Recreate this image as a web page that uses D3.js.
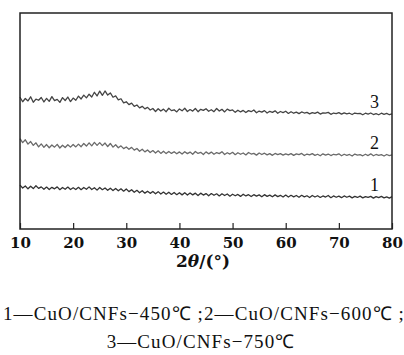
<!DOCTYPE html>
<html>
<head>
<meta charset="utf-8">
<script src="https://cdn.jsdelivr.net/npm/d3@7"></script>
<style>
  html, body { margin: 0; padding: 0; background: #fff; }
  svg { display: block; }
</style>
</head>
<body>
<div id="chart"></div>
<script>
// 2θ sampled every 0.5° from 10 to 80
const thetaStart = 10;
const thetaStep = 0.5;
const xTicks = [10, 20, 30, 40, 50, 60, 70, 80];

// intensity (a.u., stacked offsets)
const series3 = [
  61.0, 58.9, 60.4, 59.3, 61.2, 58.7, 60.1, 59.6, 60.9, 58.8, 60.5, 59.1, 61.3, 59.4, 60.0, 58.6, 60.8, 59.5, 61.1, 59.0, 60.6,
  59.6, 61.5, 60.2, 62.0, 60.7, 62.4, 61.1, 63.3, 61.6, 63.8,
  61.9, 63.9, 62.0, 63.0, 61.0, 61.6, 59.8, 60.3, 58.4, 58.9,
  57.6, 58.3, 56.8, 57.4, 56.1, 56.8, 55.6, 56.3, 55.1, 55.8,
  54.4, 55.7, 54.6, 55.5, 54.3, 55.9, 54.8, 55.2, 54.2, 55.6,
  54.7, 55.9, 54.4, 55.3, 54.6, 55.8, 54.3, 55.4, 54.9, 55.7,
  54.5, 55.2, 54.3, 55.8, 54.6, 55.4, 54.2, 55.5, 54.8, 55.1,
  54.0, 55.0, 54.2, 54.9, 53.9, 54.8, 54.3, 55.1, 53.8, 54.6,
  54.1, 54.8, 53.7, 54.5, 54.0, 54.7, 53.6, 54.4, 53.9, 54.5,
  53.5, 54.3, 53.6, 54.1, 53.4, 54.2, 53.7, 54.0, 53.3, 53.9,
  53.5, 54.1, 53.2, 53.8, 53.6, 54.0, 53.1, 53.7, 53.4, 53.9,
  53.2, 53.8, 53.3, 53.6, 53.0, 53.7, 53.4, 53.5, 52.9, 53.6,
  53.2, 53.7, 53.0, 53.4, 52.9, 53.6, 53.1, 53.5, 52.9, 53.3
];
const series2 = [
  41.8, 40.0, 41.3, 39.3, 40.5, 38.7, 39.9, 38.0, 39.4, 37.8, 39.1, 37.6, 38.9, 37.9, 39.2, 37.5, 38.8, 37.7, 39.0, 37.9, 39.1,
  38.0, 39.3, 38.1, 39.6, 38.4, 39.9, 38.5, 40.1, 38.7, 40.0,
  38.6, 39.8, 38.2, 39.6, 37.9, 39.0, 37.6, 38.5, 37.2, 38.0,
  36.9, 37.8, 36.5, 37.3, 36.0, 36.9, 35.7, 36.6, 35.4, 36.3,
  35.2, 36.2, 35.0, 36.0, 34.9, 35.9, 35.0, 35.8, 34.8, 35.7,
  34.7, 35.8, 34.9, 35.6, 34.6, 35.9, 35.0, 35.5, 34.5, 35.7,
  34.8, 35.6, 34.6, 35.4, 34.9, 35.8, 34.5, 35.3, 34.7, 35.5,
  34.4, 35.3, 34.6, 35.2, 34.3, 35.4, 34.7, 35.0, 34.2, 35.2,
  34.5, 35.1, 34.3, 34.9, 34.1, 35.0, 34.4, 34.9, 34.2, 34.8,
  34.3, 34.9, 34.1, 34.8, 34.4, 35.0, 34.0, 34.7, 34.3, 34.9,
  34.1, 34.6, 33.9, 34.8, 34.2, 34.7, 34.0, 34.6, 34.3, 34.8,
  33.9, 34.6, 34.1, 34.5, 33.8, 34.7, 34.2, 34.4, 33.9, 34.6,
  34.0, 34.8, 33.9, 34.5, 34.1, 34.4, 33.8, 34.5, 34.0, 34.3
];
const series1 = [
  20.3, 19.0, 19.9, 18.6, 19.8, 18.7, 20.0, 18.8, 19.5, 18.4, 19.4, 18.3, 19.3, 18.6, 19.5, 18.2, 19.2, 18.4, 19.4, 18.3, 19.1,
  18.3, 19.3, 18.2, 19.2, 18.4, 19.5, 18.3, 19.1, 18.0, 19.2,
  18.2, 19.0, 17.9, 18.9, 17.8, 18.8, 17.7, 18.6, 17.5, 18.5,
  17.3, 18.2, 17.0, 17.9, 16.8, 17.7, 16.6, 17.5, 16.5, 17.4,
  16.3, 17.3, 16.2, 17.1, 16.1, 17.0, 16.0, 16.9, 15.9, 16.8,
  15.8, 16.8, 15.7, 16.7, 15.8, 16.6, 15.5, 16.6, 15.7, 16.4,
  15.4, 16.4, 15.6, 16.3, 15.3, 16.3, 15.5, 16.2, 15.2, 16.1,
  15.4, 16.0, 15.1, 16.1, 15.3, 15.9, 15.0, 15.9, 15.2, 15.8,
  14.9, 15.9, 15.1, 15.7, 14.9, 15.8, 15.0, 15.6, 14.8, 15.7,
  14.8, 15.6, 14.9, 15.5, 14.7, 15.6, 14.9, 15.4, 14.6, 15.5,
  14.8, 15.4, 14.6, 15.3, 14.8, 15.5, 14.5, 15.3, 14.7, 15.2,
  14.5, 15.3, 14.7, 15.2, 14.4, 15.1, 14.6, 15.2, 14.4, 15.0,
  14.6, 15.1, 14.3, 15.0, 14.5, 15.1, 14.4, 14.9, 14.3, 15.0
];
const curveNames = ['1', '2', '3'];
const legendLines = [
  '1\u2014CuO/CNFs\u2212450\u2103 ;2\u2014CuO/CNFs\u2212600\u2103 ;',
  '3\u2014CuO/CNFs\u2212750\u2103'
];

const W = 404, H = 355;
const margin = { top: 13, right: 12, bottom: 126, left: 20 };
const width = W - margin.left - margin.right;
const height = H - margin.top - margin.bottom;

const serif = '"Liberation Serif", "Times New Roman", serif';
const boldSerif = '"DejaVu Serif", serif';

const svg = d3.select('#chart').append('svg')
  .attr('width', W)
  .attr('height', H);

const g = svg.append('g')
  .attr('transform', `translate(${margin.left},${margin.top})`);

const x = d3.scaleLinear().domain([10, 80]).range([0, width]);
const y = d3.scaleLinear().domain([0, 100]).range([height, 0]);

const curves = [
  { name: curveNames[0], values: series1, color: '#333' },
  { name: curveNames[1], values: series2, color: '#6a6a6a' },
  { name: curveNames[2], values: series3, color: '#444' }
];

const line = d3.line()
  .x((d, i) => x(thetaStart + i * thetaStep))
  .y(d => y(d));

curves.forEach(c => {
  g.append('path')
    .datum(c.values)
    .attr('fill', 'none')
    .attr('stroke', c.color)
    .attr('stroke-width', 1.3)
    .attr('stroke-linejoin', 'round')
    .attr('d', line);

  // curve number sits just above the tail
  g.append('text')
    .attr('x', x(76.7))
    .attr('y', y(c.values[c.values.length - 1]) - 6)
    .attr('text-anchor', 'middle')
    .style('font-family', serif)
    .attr('font-size', 18)
    .attr('fill', '#111')
    .text(c.name);
});

// bottom axis, ticks point inward
const xAxis = g.append('g')
  .attr('transform', `translate(0,${height})`)
  .call(d3.axisBottom(x).tickValues(xTicks).tickSize(-6).tickPadding(8).tickFormat(d3.format('d')));
xAxis.select('.domain').remove();
xAxis.selectAll('.tick line').attr('stroke', '#222').attr('stroke-width', 1.2);
xAxis.selectAll('.tick text')
  .style('font-family', boldSerif)
  .style('font-weight', 'bold')
  .style('font-size', '15px')
  .attr('fill', '#111');

// frame
g.append('rect')
  .attr('x', 0).attr('y', 0)
  .attr('width', width).attr('height', height)
  .attr('fill', 'none')
  .attr('stroke', '#222')
  .attr('stroke-width', 1.5);

// axis title
const title = g.append('text')
  .attr('x', width / 2 - 3)
  .attr('y', height + 38)
  .attr('text-anchor', 'middle')
  .style('font-family', boldSerif)
  .style('font-weight', 'bold')
  .style('font-size', '17px')
  .attr('fill', '#111');
title.append('tspan').text('2');
title.append('tspan').style('font-style', 'italic').text('\u03b8');
title.append('tspan').text('/(\u00b0)');

// caption under the chart
svg.append('text')
  .attr('x', 3)
  .attr('y', 320)
  .style('font-family', serif)
  .style('font-size', '19px')
  .style('letter-spacing', '1.1px')
  .attr('fill', '#111')
  .text(legendLines[0]);

svg.append('text')
  .attr('x', 201)
  .attr('y', 348)
  .attr('text-anchor', 'middle')
  .style('font-family', serif)
  .style('font-size', '19px')
  .style('letter-spacing', '1.1px')
  .attr('fill', '#111')
  .text(legendLines[1]);
</script>
</body>
</html>
